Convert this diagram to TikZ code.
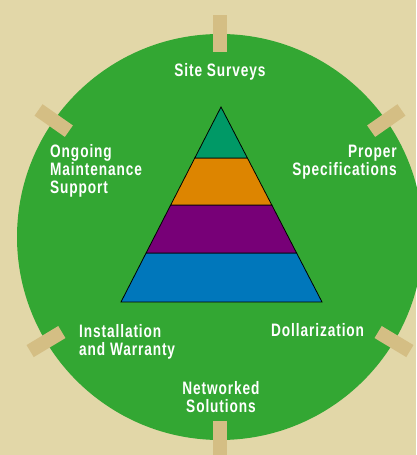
\documentclass[tikz,border=0pt]{standalone}
\usepackage{fontspec}
\setmainfont{Liberation Sans}[FakeStretch=0.76, LetterSpace=5]
\usetikzlibrary{calc}
\definecolor{bgc}{RGB}{226,215,168}
\definecolor{tabc}{RGB}{212,190,132}
\definecolor{grn}{RGB}{51,167,51}
\definecolor{teal1}{RGB}{0,153,102}
\definecolor{orng}{RGB}{221,133,0}
\definecolor{purp}{RGB}{119,0,119}
\definecolor{blu}{RGB}{0,119,187}
\begin{document}
\begin{tikzpicture}[x=1pt,y=1pt,
  tabbox/.style={fill=tabc, draw=none, rectangle, minimum width=37pt, minimum height=14pt, inner sep=0pt},
  lbl/.style={text=white, font=\fontsize{18}{18.3}\selectfont\bfseries, inner sep=0pt},
  band/.style={draw=black, line width=0.8pt, line join=miter}]
\fill[bgc] (0,0) rectangle (416,455);
\useasboundingbox (0,0) rectangle (416,455);
\coordinate (c) at (220,218);
\fill[grn] (c) circle[radius=203];
\foreach \a/\n in {90/t1,35/t2,145/t3,211/t4,-31/t5,270/t6}{
  \node[tabbox, rotate=\a] (\n) at ($(c)+(\a:203)$) {};
}
% pyramid
\coordinate (apex) at (221,348);
\coordinate (l1) at (194.8,297); \coordinate (r1) at (247.4,297);
\coordinate (l2) at (170.7,250); \coordinate (r2) at (271.8,250);
\coordinate (l3) at (146.1,202); \coordinate (r3) at (296.6,202);
\coordinate (l4) at (121,153);   \coordinate (r4) at (322,153);
\filldraw[band, fill=blu] (l3) -- (r3) -- (r4) -- (l4) -- cycle;
\filldraw[band, fill=purp] (l2) -- (r2) -- (r3) -- (l3) -- cycle;
\filldraw[band, fill=orng] (l1) -- (r1) -- (r2) -- (l2) -- cycle;
\filldraw[band, fill=teal1] (apex) -- (r1) -- (l1) -- cycle;
% labels (base anchor = last line's baseline)
\node[lbl, anchor=base] (ss) at (220,378) {Site Surveys};
\node[lbl, anchor=base west, align=left] (om) at (50,261) {Ongoing\\Maintenance\\Support};
\node[lbl, anchor=base east, align=right] (ps) at (397,279) {Proper\\Specifications};
\node[lbl, anchor=base west, align=left] (iw) at (79,99) {Installation\\and Warranty};
\node[lbl, anchor=base west] (dz) at (271,118) {Dollarization};
\node[lbl, anchor=base, align=center] (ns) at (221,42) {Networked\\Solutions};
\end{tikzpicture}
\end{document}
